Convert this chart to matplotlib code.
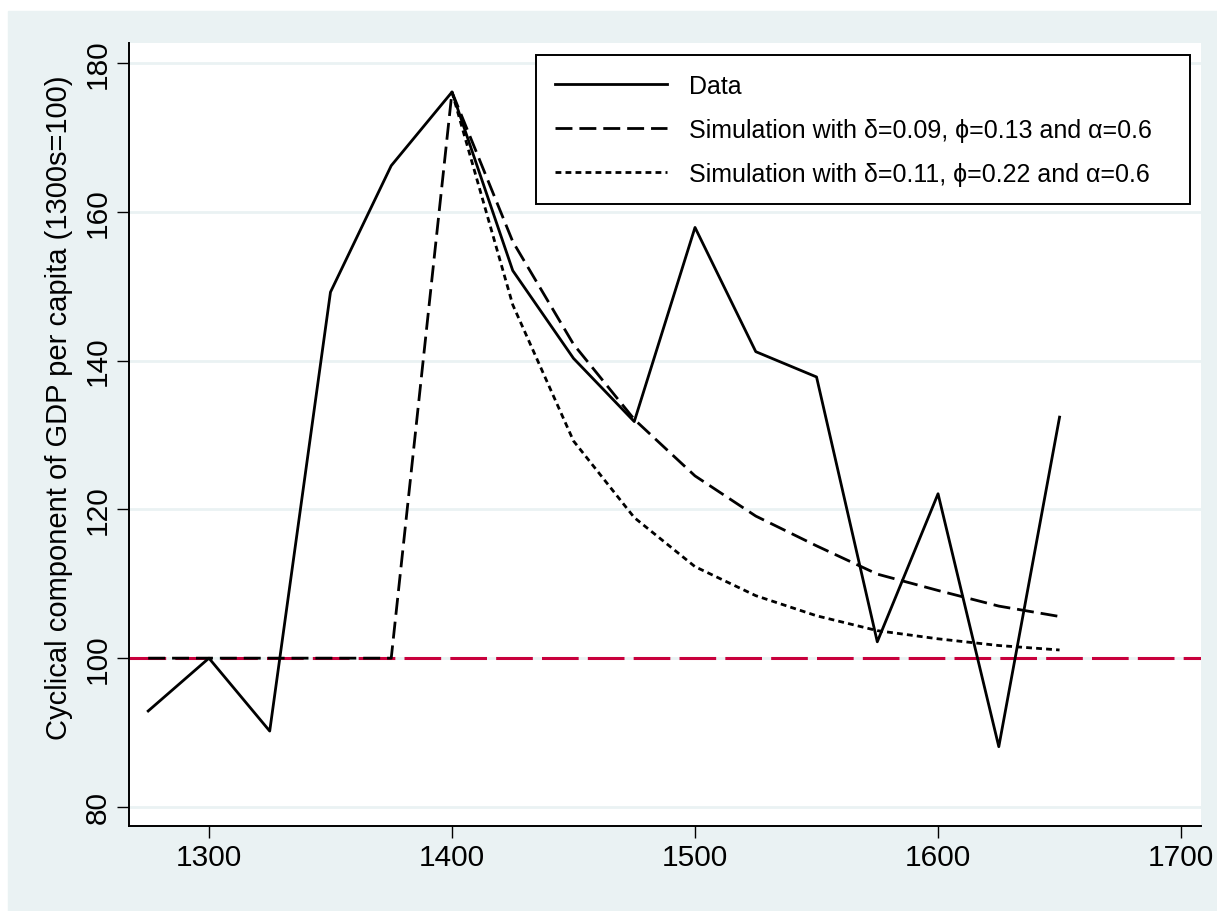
import matplotlib.pyplot as plt
from matplotlib.patches import Rectangle

plt.rcParams['font.family'] = ['Liberation Sans', 'DejaVu Sans']

years = [1275, 1300, 1325, 1350, 1375, 1400, 1425, 1450,
         1475, 1500, 1525, 1550, 1575, 1600, 1625, 1650]
data = [92.9, 100.0, 90.2, 149.2, 166.2, 176.1, 152.1, 140.3,
        131.8, 157.9, 141.2, 137.8, 102.2, 122.1, 88.1, 132.4]
sim1 = [100.0, 100.0, 100.0, 100.0, 100.0, 176.1, 156.0, 142.2,
        132.1, 124.5, 119.1, 115.1, 111.3, 109.1, 107.0, 105.6]
sim2_years = [1400, 1425, 1450, 1475, 1500, 1525, 1550, 1575, 1600, 1625, 1650]
sim2 = [176.1, 147.5, 129.2, 118.9, 112.3, 108.4, 105.7, 103.7, 102.6, 101.7, 101.1]

labels = ['Data',
          'Simulation with δ=0.09, ϕ=0.13 and α=0.6',
          'Simulation with δ=0.11, ϕ=0.22 and α=0.6']
xticks = [1300, 1400, 1500, 1600, 1700]
yticks = [80, 100, 120, 140, 160, 180]
baseline = 100
ylabel = 'Cyclical component of GDP per capita (1300s=100)'

bg = '#eaf2f3'

fig = plt.figure(figsize=(12.17, 9.12), dpi=100, facecolor='white')
fig.patches.append(Rectangle((8 / 1217, 0), 1, 1 - 12 / 912,
                             transform=fig.transFigure, color=bg, zorder=-10))

ax = fig.add_axes([129 / 1217, 1 - 827 / 912, 1072 / 1217, 783 / 912])
ax.set_facecolor('white')

lw = 2.0
ax.axhline(baseline, color='#c8003c', lw=2.2, dashes=(12, 3), zorder=1.5)
ax.plot(years, data, color='black', lw=lw, label=labels[0], zorder=3)
ax.plot(years, sim1, color='black', lw=lw, dashes=(6.1, 2.5), label=labels[1], zorder=2.5)
ax.plot(sim2_years, sim2, color='black', lw=lw, dashes=(2.1, 1.5), label=labels[2], zorder=2.5)

ax.set_xlim(1267.1, 1708.2)
ax.set_ylim(77.44, 182.69)
ax.set_xticks(xticks)
ax.set_yticks(yticks)
ax.grid(axis='y', color=bg, lw=2.0, zorder=0)
ax.set_axisbelow(True)

for s in ['top', 'right']:
    ax.spines[s].set_visible(False)
for s in ['left', 'bottom']:
    ax.spines[s].set_linewidth(1.4)

ax.tick_params(axis='both', direction='out', length=8.6, width=1.0, labelsize=21.5)
ax.tick_params(axis='x', pad=4)
ax.tick_params(axis='y', pad=4)
for t in ax.get_yticklabels():
    t.set_rotation(90)
    t.set_va('center')

ax.set_ylabel(ylabel, fontsize=21)
ax.yaxis.set_label_coords(-0.052, 0.535)

# legend box spans x 536..1190 px, top at 56 px
leg = ax.legend(loc='upper left', bbox_to_anchor=(0.3797, 0.80, 0.610, 0.1847),
                mode='expand', fontsize=18,
                frameon=True, fancybox=False, framealpha=1, edgecolor='black',
                handlelength=4.5, handletextpad=0.86, borderpad=0.75,
                labelspacing=0.8, borderaxespad=0)
leg.get_frame().set_linewidth(1.4)

fig.savefig('out.png', dpi=100, facecolor=fig.get_facecolor())
